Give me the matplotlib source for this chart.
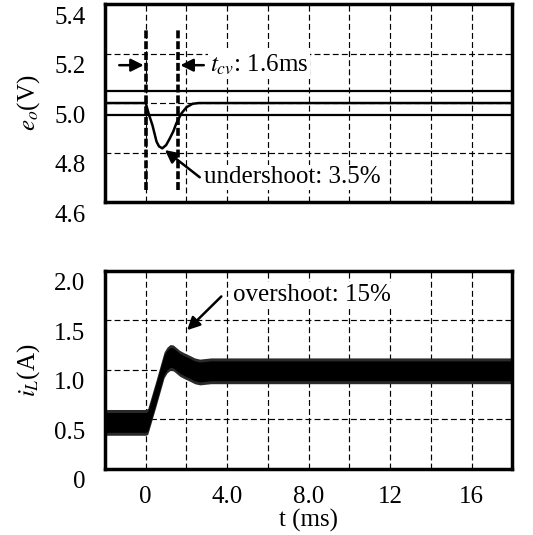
import numpy as np
import matplotlib
matplotlib.use("Agg")
import matplotlib.pyplot as plt
from matplotlib.ticker import MultipleLocator
from matplotlib.transforms import ScaledTranslation

plt.rcParams["font.family"] = ["Liberation Serif", "DejaVu Serif"]
plt.rcParams["mathtext.fontset"] = "stix"
plt.rcParams["font.size"] = 18

# output voltage e_o (V)
t_v = [-2, 0, 0.05, 0.15, 0.33, 0.53, 0.65, 0.81, 1.0, 1.18, 1.35, 1.5, 1.75, 2.0, 2.3, 2.6, 18]
e_o = [5.0, 5.0, 4.985, 4.955, 4.91, 4.844, 4.825, 4.817, 4.83, 4.857, 4.885, 4.918,
       4.958, 4.983, 4.997, 5.0, 5.0]
band_v = [4.95, 5.05]          # +-1 % settling band
t_cv = [0, 1.6]                 # settling-time markers

# inductor current i_L (A): mean of the ripple band and its half widths
t_i = [-2, 0, 0.1, 0.5, 0.9, 1.05, 1.2, 1.35, 1.67, 1.9, 2.16, 2.4, 2.65, 3.2, 18]
i_mean = [0.47, 0.47, 0.48, 0.76, 1.05, 1.10, 1.125, 1.12, 1.065, 1.04, 1.015, 0.99,
          0.978, 0.99, 0.99]
ripple_core = 0.10
ripple_edge = 0.13

x_major = [0, 4, 8, 12, 16]
x_labels = ["0", "4.0", "8.0", "12", "16"]
v_ticks = [4.6, 4.8, 5.0, 5.2, 5.4]
i_ticks = [0, 0.5, 1.0, 1.5, 2.0]
i_labels = ["0", "0.5", "1.0", "1.5", "2.0"]

fig = plt.figure(figsize=(5.33, 5.35), dpi=100)
ax1 = fig.add_axes([0.197, 0.6224, 0.7645, 0.370])
ax2 = fig.add_axes([0.197, 0.1234, 0.7645, 0.3707])

GRID_LS = (0, (5, 2.7))


def style_ax(ax):
    ax.set_xlim(-2, 18)
    ax.set_xticks(x_major)
    ax.xaxis.set_minor_locator(MultipleLocator(2))
    ax.tick_params(which="both", length=0)
    ax.tick_params(axis="y", pad=14)
    ax.tick_params(axis="x", pad=12)
    ax.grid(True, which="both", color="black", linestyle=GRID_LS, linewidth=0.85)
    for s in ax.spines.values():
        s.set_linewidth(2.5)


# ---- top: output voltage
style_ax(ax1)
ax1.set_ylim(4.6, 5.4)
ax1.set_yticks(v_ticks)
ax1.set_yticklabels([f"{v:.1f}" for v in v_ticks])
ax1.tick_params(labelbottom=False)
for y in band_v:
    ax1.axhline(y, color="black", lw=1.6, zorder=3)
ax1.plot(t_v, e_o, color="black", lw=1.8, zorder=4)
ax1.vlines(t_cv, 4.648, 5.302, color="black", lw=2.6, linestyles=[(0, (2.2, 0.8))], zorder=5)

arrow_kw = dict(arrowstyle="-|>", color="black", lw=1.8, mutation_scale=19,
                shrinkA=0, shrinkB=0)
ax1.annotate("", xy=(-0.1, 5.153), xytext=(-1.3, 5.153), arrowprops=arrow_kw, zorder=6)
ax1.annotate("", xy=(1.7, 5.153), xytext=(2.85, 5.153), arrowprops=arrow_kw, zorder=6)
ax1.text(3.14, 5.153, r"$t_{cv}$: 1.6ms", ha="left", va="center", zorder=6,
         bbox=dict(fc="white", ec="none", pad=1.5))
ax1.annotate("", xy=(0.94, 4.81), xytext=(2.65, 4.70), arrowprops=arrow_kw, zorder=6)
ax1.text(2.84, 4.70, "undershoot: 3.5%", ha="left", va="center", zorder=6,
         bbox=dict(fc="white", ec="none", pad=1.0))
ax1.set_ylabel(r"$e_o$(V)")
ax1.yaxis.set_label_coords(-0.155, 0.5)

# ---- bottom: inductor current
style_ax(ax2)
ax2.set_ylim(0, 2.0)
ax2.set_yticks(i_ticks)
ax2.set_yticklabels(i_labels)
ax2.set_xticklabels(x_labels)
mean = np.array(i_mean)
ax2.fill_between(t_i, mean - ripple_edge, mean + ripple_edge, color="#2a2a2a", lw=0, zorder=2)
ax2.fill_between(t_i, mean - ripple_core, mean + ripple_core, color="black", lw=0, zorder=2)
ax2.annotate("", xy=(2.03, 1.40), xytext=(3.71, 1.74), arrowprops=arrow_kw, zorder=6)
ax2.text(4.27, 1.755, "overshoot: 15%", ha="left", va="center", zorder=6,
         bbox=dict(fc="white", ec="none", pad=1.0))
ax2.set_ylabel(r"$i_L$(A)")
ax2.yaxis.set_label_coords(-0.155, 0.5)
ax2.set_xlabel("t (ms)", labelpad=1)

# tick labels in the original sit a little below their grid lines
shift = ScaledTranslation(0, -11 / 100, fig.dpi_scale_trans)
for ax in (ax1, ax2):
    for lab in ax.get_yticklabels():
        lab.set_transform(lab.get_transform() + shift)

fig.savefig("out.png", dpi=100)
